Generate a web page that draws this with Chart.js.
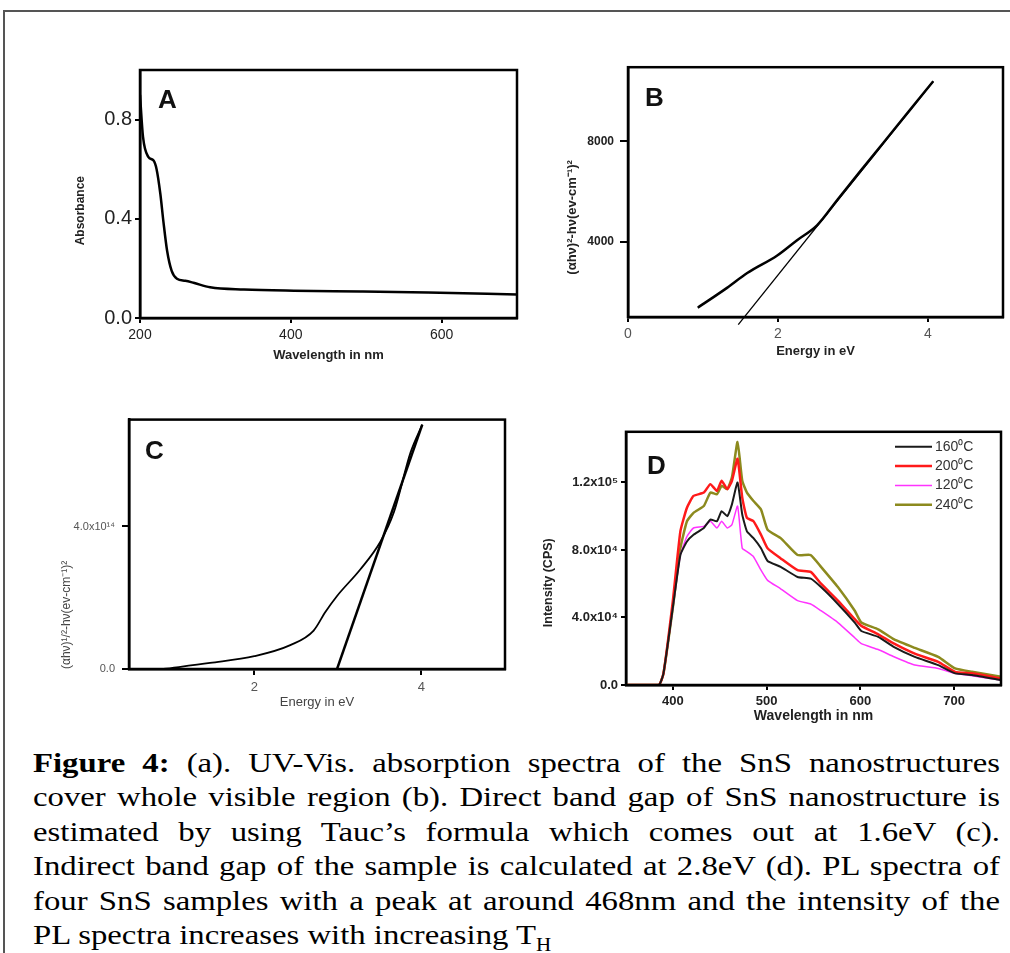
<!DOCTYPE html>
<html>
<head>
<meta charset="utf-8">
<script src="https://cdn.jsdelivr.net/npm/chart.js@4.4.1/dist/chart.umd.min.js"></script>
<style>
  body { margin: 0; background: #fff; width: 1010px; height: 953px; overflow: hidden; position: relative; }
  .frame { position: absolute; left: 3px; top: 10px; width: 1010px; height: 950px; border-top: 2px solid #555; border-left: 2px solid #555; }
  .panel { position: absolute; }
  .caption { position: absolute; left: 33px; top: 746px; width: 967px; font-family: "Liberation Serif", "Times New Roman", serif; font-size: 28px; line-height: 34.4px; color: #000; transform-origin: 0 0; }
  .caption div { white-space: nowrap; text-align: left; }
  .caption.justify div { text-align: justify; text-align-last: justify; }
  .caption.justify div.last { text-align-last: left; }
</style>
</head>
<body>
<div class="frame"></div>
<div class="panel" style="left:69px;top:55px;"><canvas id="chartA" width="458" height="312"></canvas></div>
<div class="panel" style="left:561px;top:54px;"><canvas id="chartB" width="447" height="309"></canvas></div>
<div class="panel" style="left:55px;top:406px;"><canvas id="chartC" width="455" height="308"></canvas></div>
<div class="panel" style="left:537px;top:421px;"><canvas id="chartD" width="470" height="308"></canvas></div>

<div class="caption" id="caption">
  <div><span><b>Figure 4:</b> (a). UV-Vis. absorption spectra of the SnS nanostructures</span></div>
  <div><span>cover whole visible region (b). Direct band gap of SnS nanostructure is</span></div>
  <div><span>estimated by using Tauc’s formula which comes out at 1.6eV (c).</span></div>
  <div><span>Indirect band gap of the sample is calculated at 2.8eV (d). PL spectra of</span></div>
  <div><span>four SnS samples with a peak at around 468nm and the intensity of the</span></div>
  <div class="last"><span>PL spectra increases with increasing T<sub style="font-size:18px;">H</sub></span></div>
</div>

<script>
// A: UV-Vis absorbance
const absWavelength = [200, 204, 211, 218, 222, 227, 231, 236, 242, 249, 260, 271, 293, 338, 404, 493, 582, 700];
const absValues = [0.9, 0.73, 0.65, 0.635, 0.6, 0.5, 0.39, 0.27, 0.19, 0.158, 0.15, 0.142, 0.124, 0.115, 0.11, 0.107, 0.103, 0.095];
const absXTicks = [200, 400, 600];
const absYTicks = [0, 0.4, 0.8];

// B: direct band gap
const directEnergy = [0.93, 1.32, 1.59, 1.99, 2.25, 2.52, 2.8, 3.09, 3.4, 3.76, 4.07];
const directValues = [1370, 2160, 2750, 3450, 4050, 4650, 5700, 6780, 7920, 9250, 10390];
const directFitEnergy = [1.47, 4.07];
const directFitValues = [700, 10390];
const directXTicks = [0, 2, 4];
const directYTicks = [4000, 8000];

// C: indirect band gap
const indirectEnergy = [0.91, 1.47, 2.0, 2.43, 2.71, 2.85, 2.99, 3.27, 3.51, 3.67, 3.87, 4.01];
const indirectValues = [0, 0.17e14, 0.36e14, 0.67e14, 1.08e14, 1.6e14, 2.05e14, 2.8e14, 3.58e14, 4.4e14, 6.08e14, 6.86e14];
const indirectFitEnergy = [2.99, 4.01];
const indirectFitValues = [0, 6.86e14];
const indirectXTicks = [2, 4];
const indirectYTicks = [0, 4e14];

// D: PL spectra
const plWavelength = [350, 385, 390, 400, 408, 415, 422, 433, 440, 447, 452, 458, 463, 469, 474, 479, 486, 494, 501, 515, 533, 547, 558, 576, 594, 601, 619, 636, 658, 683, 701, 719, 750];
const pl160 = [0, 0, 6900, 46000, 77000, 85000, 89000, 93000, 98000, 97000, 103000, 100000, 107000, 120000, 101000, 91000, 87000, 81000, 73500, 70000, 64000, 63000, 58000, 48000, 37000, 32000, 28500, 22500, 16700, 11800, 6900, 5900, 2900];
const pl200 = [0, 0, 6900, 50000, 91000, 105000, 112000, 114000, 119000, 115000, 121000, 116000, 121000, 134000, 111000, 99000, 97000, 89000, 81000, 75000, 68000, 67000, 60000, 50000, 39000, 35000, 30000, 24500, 18600, 13700, 7800, 6900, 3900];
const pl120 = [0, 0, 6900, 46000, 77000, 88000, 93000, 94000, 97000, 93000, 97000, 93000, 95000, 106000, 81000, 79000, 76000, 68000, 62000, 57000, 50000, 48000, 44000, 37000, 28000, 24500, 21000, 16700, 11800, 9800, 6900, 5500, 2900];
const pl240 = [0, 0, 6900, 46000, 81000, 97000, 102000, 106000, 114000, 113000, 118000, 116000, 123000, 144000, 121000, 114000, 109000, 104000, 92000, 87000, 77000, 77000, 70000, 58000, 44000, 37000, 33000, 27000, 22000, 16700, 9800, 7800, 4900];
const plLabels = ['160⁰C', '200⁰C', '120⁰C', '240⁰C'];
const plColors = ['#1a1a1a', '#ff1a1a', '#ff33ff', '#8c8a1e'];
const plXTicks = [400, 500, 600, 700];
const plYTicks = [0, 40000, 80000, 120000];
const plYTickText = ['0.0', '4.0x10⁴', '8.0x10⁴', '1.2x10⁵'];

const FONT = '"Liberation Sans", Arial, sans-serif';
const pad = n => '\u00a0'.repeat(n);

function pts(xs, ys) {
    return xs.map((x, i) => ({ x: x, y: ys[i] }));
}

// 枠と A〜D のラベル
const panelPlugin = {
    id: 'panelBox',
    afterDraw(chart, args, opts) {
        const ctx = chart.ctx;
        const a = chart.chartArea;
        ctx.save();
        ctx.strokeStyle = '#000';
        ctx.lineWidth = 2.5;
        ctx.strokeRect(a.left, a.top, a.right - a.left, a.bottom - a.top);
        ctx.fillStyle = '#111';
        ctx.font = 'bold 26px ' + FONT;
        ctx.textBaseline = 'alphabetic';
        ctx.fillText(opts.text, a.left + opts.dx, a.top + opts.dy);
        if (opts.legend) {
            ctx.font = '14px ' + FONT;
            ctx.textBaseline = 'middle';
            chart.data.datasets.forEach((ds, i) => {
                const y = a.top + 15 + i * 19.3;
                const x = a.right - 106;
                ctx.strokeStyle = ds.borderColor;
                ctx.lineWidth = ds.borderWidth;
                ctx.beginPath();
                ctx.moveTo(x, y);
                ctx.lineTo(x + 37, y);
                ctx.stroke();
                ctx.fillStyle = '#333';
                ctx.fillText(ds.label, x + 40, y);
            });
        }
        ctx.restore();
    }
};

function fixedTicks(list) {
    return function (scale) {
        scale.ticks = list.map(v => ({ value: v }));
    };
}

function axis(opts) {
    return {
        type: 'linear',
        min: opts.min,
        max: opts.max,
        afterBuildTicks: fixedTicks(opts.ticks),
        afterFit: function (scale) {
            if (opts.size !== undefined) {
                if (scale.isHorizontal()) scale.height = opts.size; else scale.width = opts.size;
            }
        },
        grid: { drawOnChartArea: false, color: '#000', lineWidth: 2, tickLength: opts.tickLength || 5 },
        border: { color: '#000', width: 2.5 },
        ticks: {
            autoSkip: false,
            maxRotation: 0,
            padding: opts.padding || 3,
            color: opts.tickColor || '#222',
            font: opts.tickFont,
            callback: opts.callback
        },
        title: {
            display: true,
            text: opts.title,
            align: opts.titleAlign || 'center',
            color: opts.titleColor || '#222',
            font: opts.titleFont,
            padding: { top: 4, bottom: 4 }
        }
    };
}

function baseOptions(label, dx, dy, xAxis, yAxis, padding, legend) {
    return {
        responsive: false,
        animation: false,
        layout: { padding: padding },
        plugins: {
            legend: { display: false },
            tooltip: { enabled: false },
            panelBox: { text: label, dx: dx, dy: dy, legend: !!legend }
        },
        elements: { point: { radius: 0 } },
        scales: { x: xAxis, y: yAxis }
    };
}

// A
new Chart(document.getElementById('chartA'), {
    type: 'line',
    data: {
        datasets: [{
            data: pts(absWavelength, absValues),
            borderColor: '#000',
            borderWidth: 2.5,
            cubicInterpolationMode: 'monotone'
        }]
    },
    options: baseOptions('A', 18, 38,
        axis({ min: 200, max: 700, ticks: absXTicks, size: 49, padding: 4, title: 'Wavelength in nm',
            tickFont: { family: FONT, size: 14 }, titleFont: { family: FONT, size: 13, weight: 'bold' } }),
        axis({ min: 0, max: 1.0, ticks: absYTicks, size: 71, padding: 3, title: 'Absorbance' + pad(10),
            callback: v => v.toFixed(1),
            tickFont: { family: FONT, size: 20 }, titleFont: { family: FONT, size: 12, weight: 'bold' } }),
        { top: 10, right: 10, left: 0, bottom: 0 }),
    plugins: [panelPlugin]
});

// B
new Chart(document.getElementById('chartB'), {
    type: 'line',
    data: {
        datasets: [{
            data: pts(directEnergy, directValues),
            borderColor: '#000',
            borderWidth: 2.5,
            cubicInterpolationMode: 'monotone'
        }, {
            data: pts(directFitEnergy, directFitValues),
            borderColor: '#000',
            borderWidth: 1.3,
            clip: false
        }]
    },
    options: baseOptions('B', 17, 39,
        axis({ min: 0, max: 5, ticks: directXTicks, size: 46, padding: 4, title: 'Energy in eV', tickColor: '#555',
            tickFont: { family: FONT, size: 14 }, titleFont: { family: FONT, size: 13, weight: 'bold' } }),
        axis({ min: 1000, max: 10950, ticks: directYTicks, size: 67, padding: 6, tickLength: 8, title: '(αhν)²-hν(ev-cm⁻¹)²' + pad(14),
            tickFont: { family: FONT, size: 12, weight: 'bold' }, titleFont: { family: FONT, size: 13, weight: 'bold' } }),
        { top: 10, right: 5, left: 0, bottom: 0 }),
    plugins: [panelPlugin]
});

// C
new Chart(document.getElementById('chartC'), {
    type: 'line',
    data: {
        datasets: [{
            data: pts(indirectEnergy, indirectValues),
            borderColor: '#000',
            borderWidth: 1.8,
            cubicInterpolationMode: 'monotone'
        }, {
            data: pts(indirectFitEnergy, indirectFitValues),
            borderColor: '#000',
            borderWidth: 2.5
        }]
    },
    options: baseOptions('C', 16, 39,
        axis({ min: 0.5, max: 5, ticks: indirectXTicks, size: 45, padding: 5, tickLength: 6, title: 'Energy in eV',
            tickColor: '#555', titleColor: '#444',
            tickFont: { family: FONT, size: 13 }, titleFont: { family: FONT, size: 13 } }),
        axis({ min: 0, max: 7e14, ticks: indirectYTicks, size: 74, padding: 7, tickLength: 7, title: '(αhν)¹/²-hν(ev-cm⁻¹)²',
            titleAlign: 'start', tickColor: '#555', titleColor: '#444',
            callback: v => v === 0 ? '0.0' : '4.0x10¹⁴',
            tickFont: { family: FONT, size: 11 }, titleFont: { family: FONT, size: 12 } }),
        { top: 10, right: 5, left: 0, bottom: 0 }),
    plugins: [panelPlugin]
});

// D
const plSeries = [pl160, pl200, pl120, pl240];
const plWidths = [2, 2.5, 1.5, 2.5];
new Chart(document.getElementById('chartD'), {
    type: 'line',
    data: {
        datasets: plSeries.map((s, i) => ({
            label: plLabels[i],
            data: pts(plWavelength, s),
            borderColor: plColors[i],
            borderWidth: plWidths[i],
            tension: 0.15
        }))
    },
    options: baseOptions('D', 21, 42,
        axis({ min: 350, max: 750, ticks: plXTicks, size: 44, padding: 4, title: 'Wavelength in nm',
            tickFont: { family: FONT, size: 13, weight: 'bold' }, titleFont: { family: FONT, size: 14, weight: 'bold' } }),
        axis({ min: 0, max: 150000, ticks: plYTicks, size: 89, padding: 3, title: 'Intensity (CPS)' + pad(14),
            callback: v => plYTickText[plYTicks.indexOf(v)],
            tickFont: { family: FONT, size: 13, weight: 'bold' }, titleFont: { family: FONT, size: 12.5, weight: 'bold' } }),
        { top: 10, right: 6, left: 0, bottom: 0 }, true),
    plugins: [panelPlugin]
});

// キャプションの横幅を合わせる (両端揃えの前に自然な幅を測る)
const cap = document.getElementById('caption');
let maxW = 0;
cap.querySelectorAll('span').forEach(s => { maxW = Math.max(maxW, s.getBoundingClientRect().width); });
const sx = Math.min(1.17, 967 / maxW);
cap.style.width = (967 / sx) + 'px';
cap.style.transform = 'scaleX(' + sx + ')';
cap.classList.add('justify');
</script>
</body>
</html>
